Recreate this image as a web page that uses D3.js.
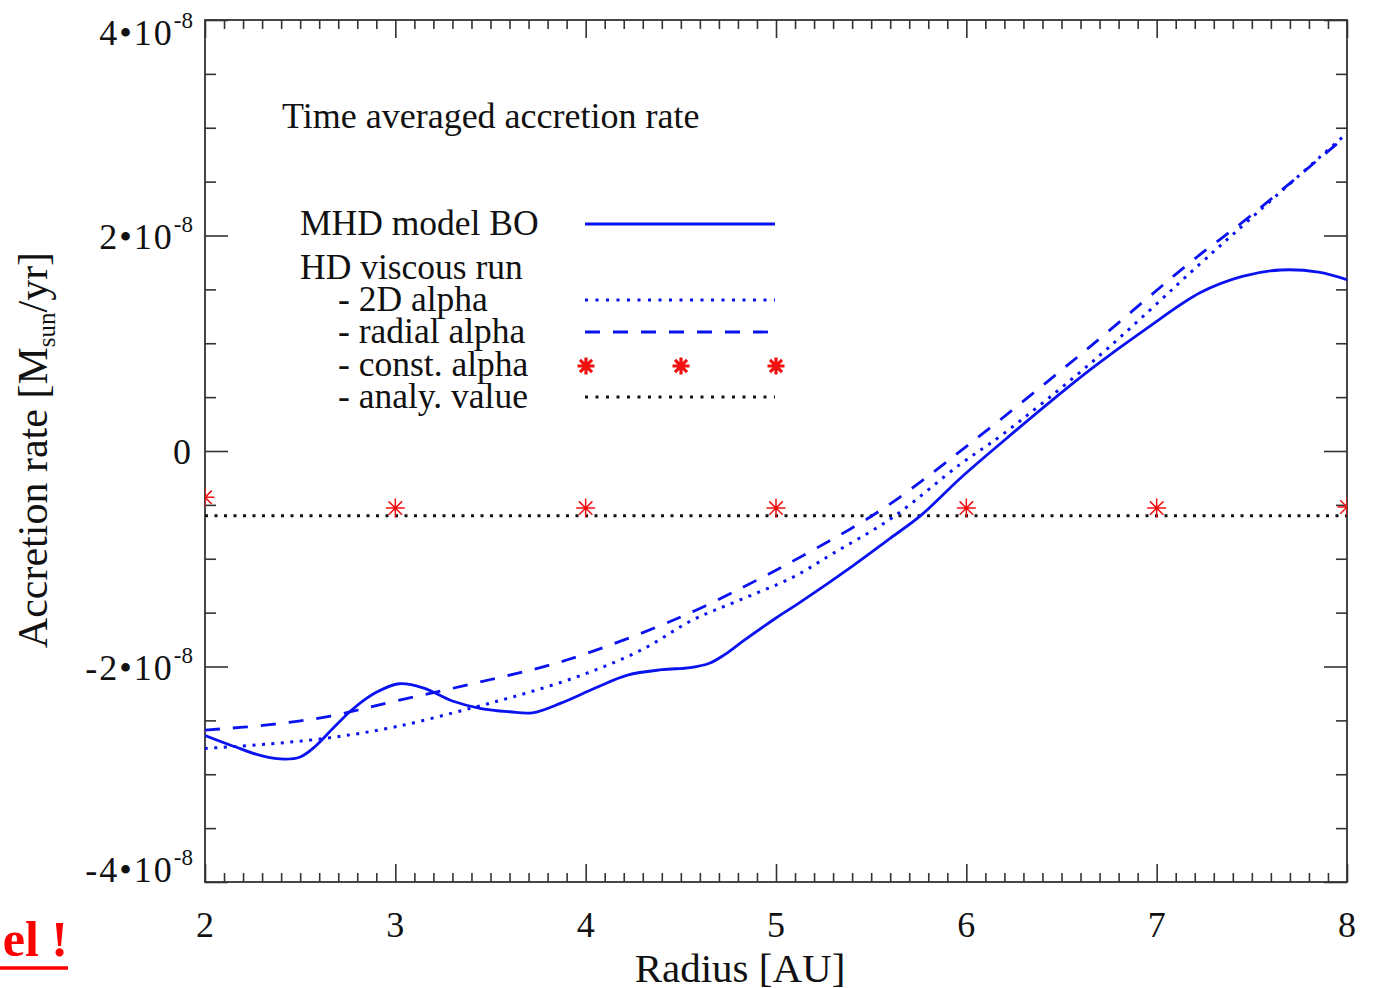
<!DOCTYPE html>
<html>
<head>
<meta charset="utf-8">
<script src="https://cdn.jsdelivr.net/npm/d3@7"></script>
<style>
  body { margin: 0; background: #fff; }
  svg text { font-family: "Liberation Serif", "Times New Roman", serif; fill: #111; }
</style>
</head>
<body>
<div id="chart"></div>
<script>
// =======================
// Data (accretion rate in units of 1e-8 Msun/yr)
// =======================
const mhdR = [2.00, 2.15, 2.30, 2.42, 2.50, 2.58, 2.68, 2.78, 2.90, 3.02, 3.15, 3.30, 3.45, 3.60, 3.72, 3.87,
              4.05, 4.22, 4.40, 4.55, 4.65, 4.73, 4.83, 5.00, 5.13, 5.40, 5.60, 5.76, 5.97, 6.20, 6.45, 6.67,
              6.95, 7.23, 7.45, 7.65, 7.85, 8.00];
const mhdV = [-2.64, -2.74, -2.83, -2.86, -2.84, -2.74, -2.56, -2.39, -2.24, -2.16, -2.20, -2.32, -2.39, -2.42, -2.43, -2.34,
              -2.20, -2.08, -2.03, -2.01, -1.97, -1.89, -1.76, -1.55, -1.40, -1.07, -0.81, -0.60, -0.25, 0.10, 0.47, 0.78,
              1.14, 1.47, 1.62, 1.68, 1.66, 1.59];

const alpha2dR = [2.00, 2.33, 2.66, 3.00, 3.39, 3.70, 4.01, 4.30, 4.56, 4.80, 5.09, 5.30, 5.61, 5.97, 6.18, 6.67, 7.23, 7.47, 8.00];
const alpha2dV = [-2.76, -2.72, -2.66, -2.56, -2.39, -2.24, -2.06, -1.84, -1.57, -1.39, -1.17, -0.95, -0.62, -0.12, 0.14, 0.84, 1.74, 2.12, 2.95];

const radialR = [2.00, 2.34, 2.66, 3.00, 3.43, 3.90, 4.50, 4.92, 5.07, 5.55, 6.02, 6.61, 7.19, 7.47, 8.00];
const radialV = [-2.59, -2.54, -2.46, -2.32, -2.15, -1.94, -1.54, -1.18, -1.04, -0.55, 0.07, 0.91, 1.77, 2.15, 2.93];

const constR = [2, 3, 4, 5, 6, 7, 8];
const constV = [-0.43, -0.53, -0.53, -0.53, -0.53, -0.53, -0.52];

const analyR = [2, 8];
const analyV = [-0.60, -0.60];

// ticks
const xMajor = [2, 3, 4, 5, 6, 7, 8];
const xMinor = d3.range(20, 81).map(d => d / 10).filter(d => !xMajor.includes(d));
const yMajor = [4, 2, 0, -2, -4];
const yMainLabels = ["4\u202210", "2\u202210", "0", "-2\u202210", "-4\u202210"];
const yExpLabels = ["-8", "-8", "", "-8", "-8"];
const yMinor = d3.range(-8, 9).map(d => d / 2).filter(d => !yMajor.includes(d));

const legendNames = ["MHD model BO", "HD viscous run", "- 2D alpha", "- radial alpha", "- const. alpha", "- analy. value"];

// =======================
// SVG
// =======================
const width = 1374;
const height = 988;

const svg = d3.select("#chart")
    .append("svg")
    .attr("width", width)
    .attr("height", height);

const x = d3.scaleLinear().domain([2, 8]).range([205, 1347]);
const y = d3.scaleLinear().domain([-4, 4]).range([882, 20]);

const blue = "#0a12f0";
const red = "#f01010";

svg.append("clipPath")
    .attr("id", "plot-clip")
    .append("rect")
    .attr("x", 205).attr("y", 20)
    .attr("width", 1347 - 205).attr("height", 882 - 20);

// =======================
// Axes (ticks pointing inward on all four sides)
// =======================
function tickAxis(axis, tr, vals, size) {
    const g = svg.append("g")
        .attr("transform", tr)
        .call(axis.tickValues(vals).tickSize(size).tickFormat(""));
    g.select(".domain").remove();
    g.selectAll("line").attr("stroke", "#333").attr("stroke-width", 1.6);
}

tickAxis(d3.axisBottom(x), "translate(0,882)", xMajor, -18);
tickAxis(d3.axisBottom(x), "translate(0,882)", xMinor, -9);
tickAxis(d3.axisTop(x), "translate(0,20)", xMajor, -18);
tickAxis(d3.axisTop(x), "translate(0,20)", xMinor, -9);
tickAxis(d3.axisLeft(y), "translate(205,0)", yMajor, -23);
tickAxis(d3.axisLeft(y), "translate(205,0)", yMinor, -11);
tickAxis(d3.axisRight(y), "translate(1347,0)", yMajor, -23);
tickAxis(d3.axisRight(y), "translate(1347,0)", yMinor, -11);

svg.append("rect")
    .attr("x", 205).attr("y", 20)
    .attr("width", 1347 - 205).attr("height", 882 - 20)
    .attr("fill", "none")
    .attr("stroke", "#333")
    .attr("stroke-width", 1.8);

// x tick labels
svg.append("g")
    .selectAll("text")
    .data(xMajor)
    .enter()
    .append("text")
    .attr("x", d => x(d))
    .attr("y", 937)
    .attr("text-anchor", "middle")
    .attr("font-size", 36)
    .text(d => d);

// y tick labels with superscript exponent
const yLab = svg.append("g")
    .selectAll("text")
    .data(yMajor)
    .enter()
    .append("text")
    .attr("x", 193)
    .attr("y", d => Math.min(Math.max(y(d) + 13, 45), 882))
    .attr("text-anchor", "end")
    .attr("font-size", 36);

yLab.append("tspan")
    .attr("letter-spacing", 2)
    .text((d, i) => yMainLabels[i]);
yLab.append("tspan")
    .attr("font-size", 23)
    .attr("dy", -17)
    .text((d, i) => yExpLabels[i]);

// axis titles
svg.append("text")
    .attr("x", 740)
    .attr("y", 982)
    .attr("text-anchor", "middle")
    .attr("font-size", 41)
    .text("Radius [AU]");

const yTitle = svg.append("text")
    .attr("transform", "translate(47,450) rotate(-90)")
    .attr("text-anchor", "middle")
    .attr("font-size", 42);
yTitle.append("tspan").text("Accretion rate [M");
yTitle.append("tspan").attr("font-size", 25).attr("dy", 8).text("sun");
yTitle.append("tspan").attr("dy", -8).text("/yr]");

// =======================
// Series
// =======================
const plot = svg.append("g").attr("clip-path", "url(#plot-clip)");

function drawLine(rs, vs, color, dash, w) {
    const pts = rs.map((r, i) => [r, vs[i]]);
    plot.append("path")
        .datum(pts)
        .attr("fill", "none")
        .attr("stroke", color)
        .attr("stroke-width", w)
        .attr("stroke-dasharray", dash)
        .attr("d", d3.line()
            .x(d => x(d[0]))
            .y(d => y(d[1]))
            .curve(d3.curveCatmullRom.alpha(0.5)));
}

function starPath(r) {
    let p = "";
    [0, 45, 90, 135].forEach(a => {
        const t = a * Math.PI / 180;
        const dx = r * Math.cos(t), dy = r * Math.sin(t);
        p += `M${-dx},${-dy}L${dx},${dy}`;
    });
    return p;
}

drawLine(analyR, analyV, "#111", "3,6.5", 3);
drawLine(radialR, radialV, blue, "15,13", 2.8);
drawLine(alpha2dR, alpha2dV, blue, "3,6.5", 3);
drawLine(mhdR, mhdV, blue, null, 2.8);

plot.append("g")
    .selectAll("path")
    .data(constR.map((r, i) => [r, constV[i]]))
    .enter()
    .append("path")
    .attr("transform", d => `translate(${x(d[0])},${y(d[1])})`)
    .attr("d", starPath(9.5))
    .attr("stroke", red)
    .attr("stroke-width", 1.5)
    .attr("fill", "none");

// =======================
// Annotations & legend
// =======================
svg.append("text")
    .attr("x", 282)
    .attr("y", 128)
    .attr("font-size", 36)
    .text("Time averaged accretion rate");

const legX = [300, 300, 338, 338, 338, 338];
const legY = [235, 279, 311, 343, 376, 408];

svg.append("g")
    .selectAll("text")
    .data(legendNames)
    .enter()
    .append("text")
    .attr("x", (d, i) => legX[i])
    .attr("y", (d, i) => legY[i])
    .attr("font-size", 35.5)
    .text(d => d);

const leg = svg.append("g");
function legLine(yy, color, dash, w) {
    leg.append("line")
        .attr("x1", 585).attr("x2", 775)
        .attr("y1", yy).attr("y2", yy)
        .attr("stroke", color)
        .attr("stroke-width", w)
        .attr("stroke-dasharray", dash);
}
legLine(224, blue, null, 2.8);
legLine(300, blue, "3,7.5", 3);
legLine(332, blue, "15,13", 2.8);
legLine(397, "#111", "3,7.5", 3);

leg.selectAll(".lstar")
    .data([586, 681, 776])
    .enter()
    .append("path")
    .attr("class", "lstar")
    .attr("transform", d => `translate(${d},366)`)
    .attr("d", starPath(8.5))
    .attr("stroke", red)
    .attr("stroke-width", 3.2)
    .attr("fill", "none");

// cut-off red note at bottom left
svg.append("text")
    .attr("x", 68)
    .attr("y", 956)
    .attr("text-anchor", "end")
    .attr("font-size", 50)
    .attr("font-weight", "bold")
    .style("fill", "#ff0000")
    .text("el !");

svg.append("line")
    .attr("x1", 0).attr("x2", 68)
    .attr("y1", 968).attr("y2", 968)
    .attr("stroke", "#ff0000")
    .attr("stroke-width", 3.5);
</script>
</body>
</html>
